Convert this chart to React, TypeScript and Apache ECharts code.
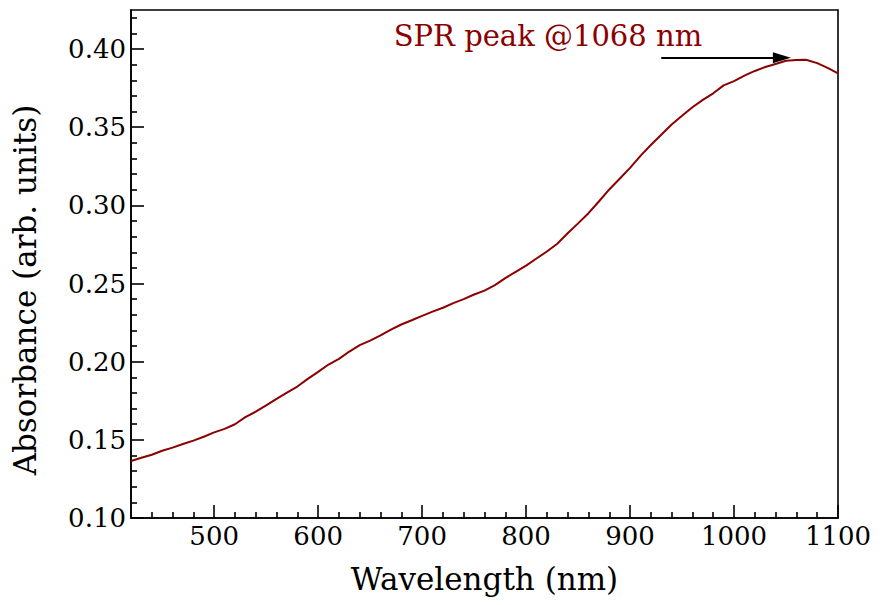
import React, { useEffect, useRef } from "react";
import * as echarts from "echarts";

const wavelength = [420,430,440,450,460,470,480,490,500,510,520,530,540,550,560,570,580,590,600,610,620,630,640,650,660,670,680,690,700,710,720,730,740,750,760,770,780,790,800,810,820,830,840,850,860,870,880,890,900,910,920,930,940,950,960,970,980,990,1000,1010,1020,1030,1040,1050,1060,1068,1070,1080,1090,1100];
const absorbance = [0.1365,0.1385,0.1405,0.143,0.145,0.1473,0.1495,0.152,0.1548,0.157,0.16,0.1645,0.168,0.172,0.1762,0.1802,0.1841,0.189,0.1935,0.1982,0.2018,0.2065,0.2106,0.2135,0.2168,0.2205,0.2238,0.2265,0.2293,0.232,0.2345,0.2375,0.24,0.243,0.2455,0.249,0.2535,0.2575,0.2615,0.266,0.2705,0.2755,0.2822,0.2885,0.295,0.3025,0.3102,0.317,0.324,0.3317,0.3386,0.3452,0.3517,0.3573,0.3628,0.3675,0.3717,0.3768,0.3795,0.383,0.386,0.3885,0.3905,0.3925,0.393,0.3932,0.393,0.391,0.388,0.3845];

const xMajorTicks = [500, 600, 700, 800, 900, 1000, 1100];
const xMinorTicks = [440,460,480,520,540,560,580,620,640,660,680,720,740,760,780,820,840,860,880,920,940,960,980,1020,1040,1060,1080];
const yMajorTicks = [0.10, 0.15, 0.20, 0.25, 0.30, 0.35, 0.40];
const yMinorTicks = [0.11,0.12,0.13,0.14,0.16,0.17,0.18,0.19,0.21,0.22,0.23,0.24,0.26,0.27,0.28,0.29,0.31,0.32,0.33,0.34,0.36,0.37,0.38,0.39,0.41,0.42];

const arrowStart = [930, 0.3945];
const arrowEnd = [1046, 0.3945];
const annotationText = "SPR peak @1068 nm";
const annotationAt = [821, 0.4084];

const FONT = "DejaVu Serif";
const LINE_COLOR = "#8b0000";

export default function App() {
  const ref = useRef<HTMLDivElement>(null);
  useEffect(() => {
    const chart = echarts.init(ref.current!, null, { renderer: "svg" });
    const axisLine = { show: true, lineStyle: { color: "#000", width: 1.6 } };
    chart.setOption({
      animation: false,
      backgroundColor: "#fff",
      grid: { left: 131, right: 42, top: 10, bottom: 87, show: true, borderColor: "#000", borderWidth: 1.6, backgroundColor: "transparent" },
      xAxis: [
        {
          type: "value", min: 420, max: 1100, position: "bottom",
          axisLine,
          axisTick: { show: true, inside: true, length: 13, customValues: xMajorTicks, lineStyle: { color: "#000", width: 1.6 } },
          axisLabel: { customValues: xMajorTicks, fontFamily: FONT, fontSize: 26, color: "#000", margin: 5, formatter: (v: number) => String(v) },
          splitLine: { show: false },
          name: "Wavelength (nm)", nameLocation: "middle", nameGap: 45,
          nameTextStyle: { fontFamily: FONT, fontSize: 31, color: "#000" },
        },
        {
          type: "value", min: 420, max: 1100, position: "bottom", offset: 0,
          axisLine: { show: false },
          axisTick: { show: true, inside: true, length: 6, customValues: xMinorTicks, lineStyle: { color: "#000", width: 1.6 } },
          axisLabel: { show: false },
          splitLine: { show: false },
        },
      ],
      yAxis: [
        {
          type: "value", min: 0.1, max: 0.425, position: "left",
          axisLine,
          axisTick: { show: true, inside: true, length: 13, customValues: yMajorTicks, lineStyle: { color: "#000", width: 1.6 } },
          axisLabel: { customValues: yMajorTicks, fontFamily: FONT, fontSize: 26, color: "#000", margin: 5, formatter: (v: number) => v.toFixed(2) },
          splitLine: { show: false },
        },
        {
          type: "value", min: 0.1, max: 0.425, position: "left", offset: 0,
          axisLine: { show: false },
          axisTick: { show: true, inside: true, length: 6, customValues: yMinorTicks, lineStyle: { color: "#000", width: 1.6 } },
          axisLabel: { show: false },
          splitLine: { show: false },
        },
      ],
      graphic: [
        {
          type: "text", x: 25, y: 290, rotation: Math.PI / 2,
          style: { text: "Absorbance (arb. units)", font: `31px "${FONT}"`, fill: "#000", textAlign: "center", textVerticalAlign: "middle" },
        },
      ],
      series: [
        {
          type: "line",
          xAxisIndex: 0, yAxisIndex: 0,
          data: wavelength.map((w, i) => [w, absorbance[i]]),
          showSymbol: false,
          symbol: "none",
          lineStyle: { color: LINE_COLOR, width: 2 },
          markLine: {
            silent: true,
            symbol: ["none", "triangle"],
            symbolSize: [11, 18],
            lineStyle: { color: "#000", width: 2, type: "solid" },
            label: { show: false },
            data: [[{ coord: arrowStart }, { coord: arrowEnd }]],
          },
          markPoint: {
            silent: true,
            symbol: "circle",
            symbolSize: 1,
            itemStyle: { color: "rgba(0,0,0,0)" },
            label: { show: true, position: "inside", formatter: annotationText, fontFamily: FONT, fontSize: 29, color: LINE_COLOR },
            data: [{ coord: annotationAt }],
          },
        },
      ],
    });
    return () => chart.dispose();
  }, []);
  return <div ref={ref} style={{ width: 880, height: 605, margin: -8 }} />;
}
